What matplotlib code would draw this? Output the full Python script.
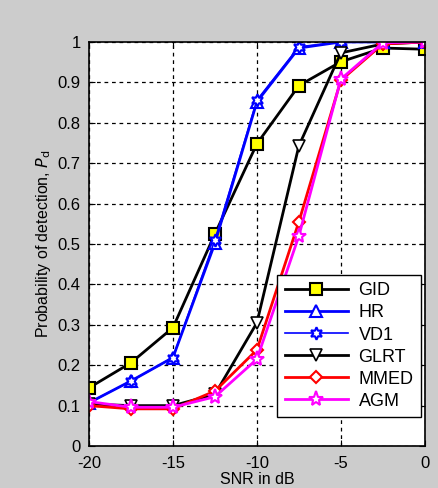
import matplotlib
matplotlib.use("Agg")
import matplotlib.pyplot as plt

snr = [-20, -17.5, -15, -12.5, -10, -7.5, -5, -2.5, 0]
gid  = [0.144, 0.206, 0.293, 0.525, 0.748, 0.892, 0.951, 0.985, 0.982]
hr   = [0.107, 0.161, 0.219, 0.502, 0.852, 0.985, 1.0, 1.0, 1.0]
vd1  = [0.107, 0.161, 0.219, 0.510, 0.856, 0.988, 1.0, 1.0, 1.0]
glrt = [0.104, 0.100, 0.100, 0.128, 0.305, 0.743, 0.973, 0.995, 1.0]
mmed = [0.100, 0.092, 0.092, 0.136, 0.238, 0.555, 0.905, 0.995, 1.0]
agm  = [0.110, 0.096, 0.096, 0.122, 0.215, 0.520, 0.908, 0.998, 1.0]

xticks = [-20, -15, -10, -5, 0]
yticks = [0, 0.1, 0.2, 0.3, 0.4, 0.5, 0.6, 0.7, 0.8, 0.9, 1]
ytlabels = ['0', '0.1', '0.2', '0.3', '0.4', '0.5', '0.6', '0.7', '0.8', '0.9', '1']

plt.rcParams['font.family'] = ['Liberation Sans', 'DejaVu Sans']
plt.rcParams['axes.unicode_minus'] = False

fig = plt.figure(figsize=(4.39, 4.88), dpi=100, facecolor='#cccccc')
ax = fig.add_axes([0.2027, 0.086, 0.765, 0.828])
ax.set_facecolor('white')

ms = 8
ax.plot(snr, gid, color='black', lw=2, marker='s', ms=ms, mfc='yellow', mec='black', mew=1.5, label='GID')
ax.plot(snr, hr, color='blue', lw=2, marker='^', ms=ms, mfc='white', mec='blue', mew=1.5, label='HR')
ax.plot(snr, vd1, color='blue', lw=1.2, marker=(6, 1, 0), ms=ms+1, mfc='white', mec='blue', mew=1.5, label='VD1')
ax.plot(snr, glrt, color='black', lw=2, marker='v', ms=ms+1, mfc='white', mec='black', mew=1.2, label='GLRT')
ax.plot(snr, mmed, color='red', lw=2, marker='D', ms=6, mfc='white', mec='red', mew=1.5, label='MMED')
ax.plot(snr, agm, color='magenta', lw=2, marker='*', ms=ms+3, mfc='white', mec='magenta', mew=1.5, label='AGM')

ax.set_xlim(-20, 0)
ax.set_ylim(0, 1)
ax.set_xticks(xticks)
ax.set_yticks(yticks)
ax.set_yticklabels(ytlabels)
ax.tick_params(direction='in', labelsize=12, length=4, top=True, right=True)
ax.tick_params(axis='x', pad=7)
ax.tick_params(axis='y', pad=6)
ax.grid(True, color='black', linestyle=(0, (3, 3)), lw=0.9)
for s in ax.spines.values():
    s.set_linewidth(1.2)

ax.set_xlabel('SNR in dB', fontsize=11.5, labelpad=1)
ax.set_ylabel('Probability of detection, $P_{\\mathrm{d}}$', fontsize=11.5, labelpad=3)

leg = ax.legend(loc='lower right', bbox_to_anchor=(0.988, 0.072), borderaxespad=0, fontsize=13,
                frameon=True, fancybox=False, edgecolor='black', handlelength=3.5, borderpad=0.4,
                labelspacing=0.28, framealpha=1, handletextpad=0.6)
leg.get_frame().set_linewidth(1.0)

fig.savefig('out.png', dpi=100, facecolor=fig.get_facecolor())
